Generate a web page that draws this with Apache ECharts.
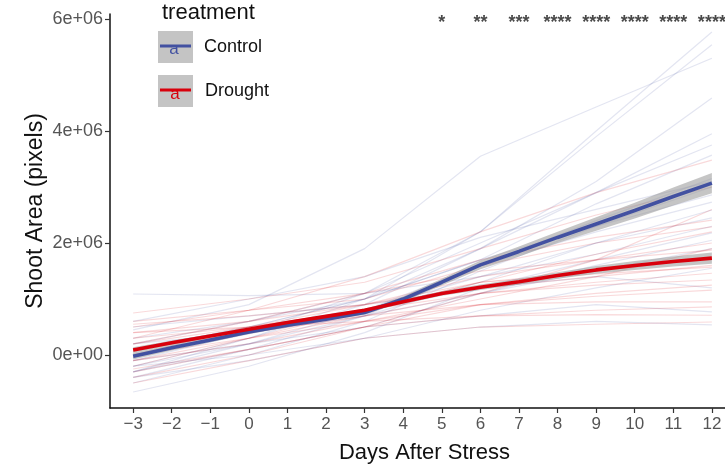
<!DOCTYPE html>
<html>
<head>
<meta charset="utf-8">
<script src="https://cdn.jsdelivr.net/npm/echarts@6/dist/echarts.min.js"></script>
<style>
  html, body { margin: 0; padding: 0; background: #ffffff; }
  #chart { width: 725px; height: 465px; }
</style>
</head>
<body>
<div id="chart"></div>
<script>
// Shoot area (pixels) of individual plants and group means, by days after stress.
// Values are stored in millions of pixels.
const SCALE = 1e6;

const days = [-3, -2, -1, 0, 1, 2, 3, 4, 5, 6, 7, 8, 9, 10, 11, 12];
const controlMean = [-0.02, 0.13, 0.27, 0.41, 0.53, 0.64, 0.76, 1.00, 1.30, 1.61, 1.85, 2.10, 2.34, 2.58, 2.83, 3.07];
const droughtMean = [0.09, 0.22, 0.34, 0.46, 0.58, 0.69, 0.80, 0.95, 1.10, 1.21, 1.31, 1.42, 1.52, 1.60, 1.67, 1.73];
// half-widths of the confidence bands
const controlCI = [0.06, 0.05, 0.04, 0.04, 0.03, 0.03, 0.04, 0.05, 0.06, 0.08, 0.09, 0.10, 0.12, 0.14, 0.16, 0.18];
const droughtCI = [0.05, 0.04, 0.03, 0.03, 0.03, 0.03, 0.03, 0.04, 0.04, 0.05, 0.05, 0.06, 0.07, 0.08, 0.09, 0.10];

// individual plants, measured on these days
const plantDays = [-3, 0, 3, 6, 9, 12];
const controlPlants = [
  [-0.30, 0.30, 1.00, 2.20, 4.00, 5.77],
  [-0.10, 0.40, 1.10, 2.20, 3.90, 5.54],
  [0.45, 0.90, 1.90, 3.55, 4.43, 5.30],
  [-0.20, 0.30, 0.90, 1.90, 3.10, 4.59],
  [0.10, 0.50, 1.00, 1.90, 2.90, 3.95],
  [0.20, 0.60, 1.10, 2.00, 2.90, 3.75],
  [1.09, 1.06, 1.10, 1.40, 1.80, 2.30],
  [-0.40, 0.10, 0.70, 1.60, 2.40, 3.15],
  [-0.50, 0.00, 0.60, 1.50, 2.30, 3.00],
  [0.30, 0.60, 1.00, 1.70, 2.30, 2.86],
  [-0.20, 0.20, 0.80, 1.60, 2.20, 2.73],
  [0.00, 0.40, 0.80, 1.40, 2.00, 2.59],
  [-0.66, -0.20, 0.40, 1.20, 1.70, 2.18],
  [-0.30, 0.10, 0.50, 1.10, 1.60, 2.05],
  [0.20, 0.40, 0.70, 1.10, 1.50, 1.90],
  [-0.40, -0.10, 0.30, 0.80, 1.20, 1.55],
  [0.50, 0.70, 0.90, 1.20, 1.40, 1.20],
  [-0.10, 0.20, 0.50, 0.70, 0.90, 0.77],
  [-0.20, 0.00, 0.30, 0.50, 0.60, 0.54],
  [0.10, 0.50, 1.00, 1.70, 2.70, 3.57],
  [0.60, 1.00, 1.40, 2.10, 2.60, 3.10],
  [-0.30, 0.20, 0.70, 1.30, 2.00, 2.45]
];
const droughtPlants = [
  [0.30, 0.80, 1.40, 2.20, 2.90, 3.48],
  [0.75, 1.00, 1.30, 1.90, 2.50, 3.00],
  [0.20, 0.60, 1.10, 1.70, 2.10, 2.41],
  [0.50, 0.80, 1.00, 1.60, 2.00, 2.29],
  [0.00, 0.50, 0.90, 1.40, 1.70, 2.00],
  [0.60, 0.80, 1.10, 1.50, 1.70, 1.875],
  [-0.20, 0.30, 0.80, 1.30, 1.50, 1.73],
  [0.40, 0.60, 0.90, 1.30, 1.45, 1.57],
  [-0.10, 0.30, 0.70, 1.10, 1.30, 1.46],
  [0.20, 0.50, 0.80, 1.10, 1.25, 1.34],
  [-0.40, 0.00, 0.50, 0.90, 1.05, 1.16],
  [0.10, 0.40, 0.70, 0.90, 0.95, 0.95],
  [-0.30, 0.10, 0.50, 0.70, 0.80, 0.86],
  [0.40, 0.50, 0.60, 0.70, 0.72, 0.71],
  [-0.50, -0.10, 0.30, 0.50, 0.55, 0.59],
  [0.55, 0.70, 0.90, 1.20, 1.40, 1.60],
  [-0.10, 0.20, 0.60, 1.00, 1.40, 1.90],
  [0.30, 0.50, 0.80, 1.30, 1.80, 2.20],
  [0.00, 0.30, 0.60, 0.90, 1.10, 1.25],
  [-0.25, 0.10, 0.50, 1.10, 1.70, 2.60]
];

// significance of the treatment difference per day
const sigDays = [5, 6, 7, 8, 9, 10, 11, 12];
const sigLabels = ['*', '**', '***', '****', '****', '****', '****', '****'];
const sigY = 5.93; // height of the significance row

const xTicks = days;
const yTicks = [0, 2e6, 4e6, 6e6];

const COL_CONTROL = '#4251a1';
const COL_DROUGHT = '#d8000c';
const FONT = '"Liberation Sans", Arial, Helvetica, sans-serif';

const chart = echarts.init(document.getElementById('chart'), null, { renderer: 'canvas' });

function plantSeries(rows, color) {
  return rows.map(function (row) {
    return {
      type: 'line',
      silent: true,
      symbol: 'none',
      smooth: false,
      z: 1,
      lineStyle: { color: color, width: 1.2, opacity: 0.15 },
      data: row.map(function (v, i) { return [plantDays[i], v * SCALE]; })
    };
  });
}

function bandSeries(mean, ci, z) {
  return {
    type: 'custom',
    silent: true,
    z: z,
    clip: false,
    data: days.map(function (d, i) { return [d, (mean[i] - ci[i]) * SCALE, (mean[i] + ci[i]) * SCALE]; }),
    encode: { x: 0, y: [1, 2] },
    renderItem: function (params, api) {
      if (params.dataIndex !== 0) return null;
      const upper = days.map(function (d, i) { return api.coord([d, (mean[i] + ci[i]) * SCALE]); });
      const lower = days.map(function (d, i) { return api.coord([d, (mean[i] - ci[i]) * SCALE]); }).reverse();
      return {
        type: 'polygon',
        shape: { points: upper.concat(lower) },
        style: { fill: 'rgba(150,150,150,0.55)' }
      };
    }
  };
}

function meanSeries(mean, color, z) {
  return {
    type: 'line',
    silent: true,
    symbol: 'none',
    z: z,
    lineStyle: { color: color, width: 3.6 },
    data: days.map(function (d, i) { return [d, mean[i] * SCALE]; })
  };
}

const series = []
  .concat(plantSeries(controlPlants, COL_CONTROL))
  .concat(plantSeries(droughtPlants, COL_DROUGHT))
  .concat([
    bandSeries(controlMean, controlCI, 3),
    bandSeries(droughtMean, droughtCI, 3),
    meanSeries(controlMean, COL_CONTROL, 4),
    meanSeries(droughtMean, COL_DROUGHT, 5),
    {
      type: 'scatter',
      silent: true,
      symbolSize: 0,
      clip: false,
      z: 6,
      data: sigDays.map(function (d) { return [d, sigY * SCALE]; }),
      label: {
        show: true,
        position: 'inside',
        formatter: function (p) { return sigLabels[p.dataIndex]; },
        fontFamily: FONT,
        fontSize: 18,
        fontWeight: 'bold',
        color: '#1a1a1a'
      }
    }
  ]);

function fmtY(v) {
  if (v === 0) return '0e+00';
  return (v / 1e6) + 'e+06';
}

const option = {
  animation: false,
  backgroundColor: '#ffffff',
  grid: { left: 110, right: 0, top: 14, bottom: 57, containLabel: false, outerBoundsMode: 'none' },
  xAxis: {
    type: 'value',
    min: -3.6,
    max: 12.34,
    name: 'Days After Stress',
    nameLocation: 'middle',
    nameGap: 34,
    nameMoveOverlap: false,
    nameTextStyle: { fontFamily: FONT, fontSize: 22, color: '#111111', padding: [0, 0, 0, 14] },
    axisLine: { show: true, onZero: false, lineStyle: { color: '#111111', width: 1.5 } },
    axisTick: { show: true, length: 5, customValues: xTicks, lineStyle: { color: '#333333', width: 1.2 } },
    axisLabel: {
      customValues: xTicks,
      margin: 8,
      fontFamily: FONT,
      fontSize: 17,
      color: '#555555',
      formatter: function (v) { return String(v).replace('-', '\u2212'); }
    },
    splitLine: { show: false }
  },
  yAxis: {
    type: 'value',
    min: -0.946e6,
    max: 6.09e6,
    name: 'Shoot Area (pixels)',
    nameLocation: 'middle',
    nameGap: 63,
    nameMoveOverlap: false,
    nameTextStyle: { fontFamily: FONT, fontSize: 23, color: '#111111' },
    axisLine: { show: true, onZero: false, lineStyle: { color: '#111111', width: 1.5 } },
    axisTick: { show: true, length: 5, customValues: yTicks, lineStyle: { color: '#333333', width: 1.2 } },
    axisLabel: {
      customValues: yTicks,
      margin: 7,
      fontFamily: FONT,
      fontSize: 18,
      color: '#555555',
      formatter: fmtY
    },
    splitLine: { show: false }
  },
  graphic: [
    { type: 'text', left: 162, top: 2, style: { text: 'treatment', font: '22px ' + FONT, fill: '#111111' } },
    { type: 'rect', shape: { x: 158, y: 31, width: 35, height: 32 }, style: { fill: '#c4c4c4' } },
    { type: 'line', shape: { x1: 160, y1: 46, x2: 191, y2: 46 }, style: { stroke: COL_CONTROL, lineWidth: 3 } },
    { type: 'text', x: 174, y: 49, style: { text: 'a', font: '17px ' + FONT, fill: COL_CONTROL, align: 'center', verticalAlign: 'middle' } },
    { type: 'text', x: 204, y: 47, style: { text: 'Control', font: '18px ' + FONT, fill: '#111111', verticalAlign: 'middle' } },
    { type: 'rect', shape: { x: 158, y: 75, width: 35, height: 32 }, style: { fill: '#c4c4c4' } },
    { type: 'line', shape: { x1: 160, y1: 90, x2: 191, y2: 90 }, style: { stroke: COL_DROUGHT, lineWidth: 3 } },
    { type: 'text', x: 175, y: 94, style: { text: 'a', font: '17px ' + FONT, fill: COL_DROUGHT, align: 'center', verticalAlign: 'middle' } },
    { type: 'text', x: 205, y: 91, style: { text: 'Drought', font: '18px ' + FONT, fill: '#111111', verticalAlign: 'middle' } }
  ],
  series: series
};

chart.setOption(option);
</script>
</body>
</html>
